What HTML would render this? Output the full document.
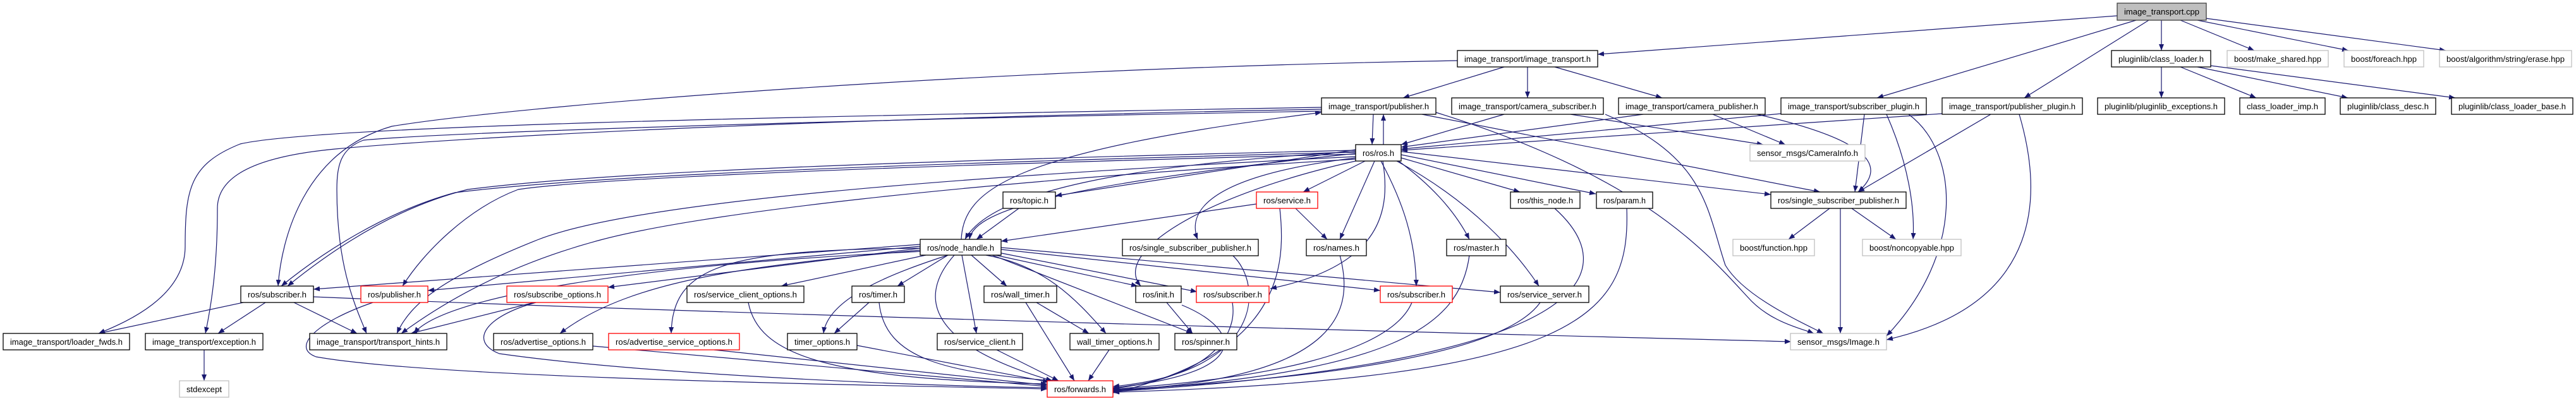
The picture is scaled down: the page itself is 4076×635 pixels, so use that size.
<!DOCTYPE html>
<html><head><meta charset="utf-8"><style>
html,body{margin:0;padding:0;background:#fff;}
svg{display:block}
text{font-family:"Liberation Sans",sans-serif;font-size:13px;fill:#000}
.n{fill:#fff;stroke:#000;stroke-width:1.3}
.r{fill:#fff;stroke:#ff0000;stroke-width:1.3}
.g{fill:#fff;stroke:#bfbfbf;stroke-width:1.3}
.e{fill:none;stroke:#191970;stroke-width:1.2;marker-end:url(#a)}
</style></head><body>
<svg width="4076" height="635" viewBox="0 0 4076 635" xmlns="http://www.w3.org/2000/svg">
<defs><marker id="a" markerUnits="userSpaceOnUse" markerWidth="11" markerHeight="8" refX="10" refY="4" orient="auto"><path d="M0,0 L10,4 L0,8 z" fill="#191970"/></marker></defs>
<g>
<!-- edges from cpp -->
<path class="e" d="M3350,25 L2528,86"/>
<path class="e" d="M3380,32 L2970,155"/>
<path class="e" d="M3400,32 L3203,155"/>
<path class="e" d="M3420,32 L3420,80"/>
<path class="e" d="M3450,32 L3567,80"/>
<path class="e" d="M3477,32 L3716,80"/>
<path class="e" d="M3490,29 L3870,80"/>
<!-- class_loader -->
<path class="e" d="M3420,106 L3420,155"/>
<path class="e" d="M3450,106 L3570,155"/>
<path class="e" d="M3477,106 L3715,155"/>
<path class="e" d="M3498,104 L3885,155"/>
<!-- image_transport.h -->
<path class="e" d="M2380,106 L2220,155"/>
<path class="e" d="M2417,106 L2417,155"/>
<path class="e" d="M2460,106 L2630,155"/>
<path class="e" d="M2306,96 C1500,110 800,170 620,200 C480,240 445,380 440,453"/>
<!-- publisher.h long left -->
<path class="e" d="M2091,170 C1200,185 500,200 380,228 C300,260 293,300 293,390 C293,470 200,510 156,528"/>
<path class="e" d="M2091,173 C1200,190 700,220 530,236 C380,250 344,290 344,330 C344,420 335,480 325,528"/>
<path class="e" d="M2091,176 C1300,190 700,210 575,222 C540,235 533,260 533,300 C533,420 560,480 580,528"/>
<!-- ros.h to left -->
<path class="e" d="M2145,238 C1200,260 900,280 740,300 C620,330 520,400 455,453"/>
<path class="e" d="M2145,241 C1200,265 880,285 720,305 C610,335 510,400 445,453"/>
<path class="e" d="M2145,244 C1200,268 900,288 820,300 C740,330 670,400 637,453"/>
<path class="e" d="M2145,248 C1500,280 1000,320 850,380 C700,440 650,480 628,528"/>
<path class="e" d="M2145,252 C1500,290 1100,340 950,380 C800,420 700,480 635,528"/>
<!-- node_handle left -->
<path class="e" d="M1456,387 L496,458"/>
<path class="e" d="M1456,390 L677,460"/>
<path class="e" d="M1456,393 L962,455"/>
<path class="e" d="M1456,396 C1200,420 1000,440 886,528"/>
<path class="e" d="M1462,393 C1150,395 1064,420 1062,528"/>
<path class="e" d="M1460,398 C1000,420 700,470 655,528"/>
<path class="e" d="M1465,404 L1236,453"/>
<path class="e" d="M1500,404 L1420,453"/>
<path class="e" d="M1500,404 C1420,430 1310,470 1303,528"/>
<path class="e" d="M1537,404 L1593,453"/>
<path class="e" d="M1522,404 L1545,528"/>
<path class="e" d="M1510,404 C1460,460 1450,540 1665,603"/>
<path class="e" d="M1560,404 C1650,420 1700,470 1750,528"/>
<path class="e" d="M1570,404 L1887,528"/>
<path class="e" d="M1575,404 L1800,453"/>
<path class="e" d="M1580,400 L1894,462"/>
<path class="e" d="M1584,395 L2184,460"/>
<path class="e" d="M1584,392 L2374,463"/>
<path class="e" d="M1521,379 C1525,300 1600,240 2091,178"/>
<!-- rsub -->
<path class="e" d="M496,470 C1200,500 2400,530 2834,541"/>
<path class="e" d="M385,479 L156,528"/>
<path class="e" d="M420,479 L345,528"/>
<path class="e" d="M465,479 L565,528"/>
<path class="e" d="M323,554 L323,603"/>
<!-- publisher red etc to forwards -->
<path class="e" d="M590,479 C500,510 460,550 500,565 C700,600 1400,610 1657,616"/>
<path class="e" d="M845,479 L650,528"/>
<path class="e" d="M848,479 C770,500 740,540 790,560 C1000,590 1400,610 1657,614"/>
<path class="e" d="M938,548 L1657,612"/>
<path class="e" d="M1130,554 L1657,610"/>
<path class="e" d="M1184,479 C1200,560 1300,600 1657,608"/>
<path class="e" d="M1375,479 L1320,528"/>
<path class="e" d="M1391,479 C1400,570 1500,590 1667,603"/>
<path class="e" d="M1356,547 L1660,605"/>
<path class="e" d="M1640,479 L1723,528"/>
<path class="e" d="M1623,479 L1700,603"/>
<path class="e" d="M1577,554 L1675,603"/>
<path class="e" d="M1755,554 L1722,603"/>
<path class="e" d="M1846,479 L1887,528"/>
<path class="e" d="M1870,483 C1960,520 1990,590 1761,614"/>
<path class="e" d="M1950,479 C1960,540 1900,600 1761,615"/>
<path class="e" d="M2234,479 C2200,560 2000,600 1761,616"/>
<path class="e" d="M2437,479 C2380,560 2100,600 1761,617"/>
<path class="e" d="M2120,404 C2140,480 2140,600 1761,618"/>
<path class="e" d="M2325,404 C2310,520 2200,590 1761,619"/>
<path class="e" d="M2460,330 C2560,420 2560,570 1761,620"/>
<path class="e" d="M2574,330 C2580,500 2500,600 1761,621"/>
<path class="e" d="M2025,330 C2035,420 2030,560 1761,622"/>
<path class="e" d="M1950,404 C2000,450 2000,590 1761,612"/>
<!-- topic/service -->
<path class="e" d="M1612,330 L1545,379"/>
<path class="e" d="M1988,323 L1584,382"/>
<path class="e" d="M2050,330 L2100,379"/>
<!-- ros.h out -->
<path class="e" d="M2145,237 L1670,310"/>
<path class="e" d="M2145,240 C1800,260 1570,300 1527,379"/>
<path class="e" d="M2145,243 C1700,290 1540,330 1534,379"/>
<path class="e" d="M2160,255 L2062,304"/>
<path class="e" d="M2175,255 L2120,379"/>
<path class="e" d="M2213,255 C2260,290 2300,330 2325,379"/>
<path class="e" d="M2185,255 C2220,320 2240,380 2241,453"/>
<path class="e" d="M2210,255 C2330,320 2400,400 2435,453"/>
<path class="e" d="M2217,250 L2405,304"/>
<path class="e" d="M2217,245 L2525,307"/>
<path class="e" d="M2217,240 L2802,308"/>
<path class="e" d="M2145,250 C1900,280 1880,340 1895,379"/>
<path class="e" d="M2145,255 C1900,310 1760,400 1805,453"/>
<path class="e" d="M2188,255 C2200,330 2190,420 2010,457"/>
<path class="e" d="M2189,229 L2189,181"/>
<path class="e" d="M2173,181 L2171,229"/>
<!-- row3 to ros etc -->
<path class="e" d="M2380,181 L2217,229"/>
<path class="e" d="M2600,181 L2217,233"/>
<path class="e" d="M2818,180 L2217,236"/>
<path class="e" d="M3073,180 L2217,238"/>
<path class="e" d="M2250,181 L2880,304"/>
<path class="e" d="M2272,178 C2600,280 2700,400 2765,470 C2800,510 2850,520 2870,528"/>
<path class="e" d="M2485,181 L2790,229"/>
<path class="e" d="M2540,181 C2700,250 2700,330 2730,420 C2760,470 2850,510 2885,528"/>
<path class="e" d="M2710,181 L2825,229"/>
<path class="e" d="M2780,181 C2950,220 2990,260 2940,304"/>
<path class="e" d="M2950,181 L2935,304"/>
<path class="e" d="M3020,181 C3100,240 3110,400 2985,532"/>
<path class="e" d="M3150,181 L2940,304"/>
<path class="e" d="M3195,181 C3230,300 3240,480 2985,538"/>
<path class="e" d="M2895,330 L2830,379"/>
<path class="e" d="M2930,330 L3000,379"/>
<path class="e" d="M2912,330 L2912,528"/>
<path class="e" d="M2985,181 C3020,260 3030,330 3027,379"/>
</g>
<g>
<rect x="3350" y="5" width="141" height="27" fill="#bfbfbf" stroke="#404040" stroke-width="1.3"/><text x="3361" y="23" textLength="119" lengthAdjust="spacingAndGlyphs">image_transport.cpp</text>
<rect class="n" x="2306" y="80" width="222" height="26"/><text x="2317" y="98" textLength="200" lengthAdjust="spacingAndGlyphs">image_transport/image_transport.h</text>
<rect class="n" x="3341" y="80" width="157" height="26"/><text x="3352" y="98" textLength="135" lengthAdjust="spacingAndGlyphs">pluginlib/class_loader.h</text>
<rect class="g" x="3524" y="80" width="160" height="26"/><text x="3535" y="98" textLength="138" lengthAdjust="spacingAndGlyphs">boost/make_shared.hpp</text>
<rect class="g" x="3709" y="80" width="126" height="26"/><text x="3720" y="98" textLength="104" lengthAdjust="spacingAndGlyphs">boost/foreach.hpp</text>
<rect class="g" x="3860" y="80" width="209" height="26"/><text x="3871" y="98" textLength="187" lengthAdjust="spacingAndGlyphs">boost/algorithm/string/erase.hpp</text>
<rect class="n" x="2091" y="155" width="181" height="26"/><text x="2102" y="173" textLength="159" lengthAdjust="spacingAndGlyphs">image_transport/publisher.h</text>
<rect class="n" x="2297" y="155" width="240" height="26"/><text x="2308" y="173" textLength="218" lengthAdjust="spacingAndGlyphs">image_transport/camera_subscriber.h</text>
<rect class="n" x="2561" y="155" width="232" height="26"/><text x="2572" y="173" textLength="210" lengthAdjust="spacingAndGlyphs">image_transport/camera_publisher.h</text>
<rect class="n" x="2818" y="155" width="230" height="26"/><text x="2829" y="173" textLength="208" lengthAdjust="spacingAndGlyphs">image_transport/subscriber_plugin.h</text>
<rect class="n" x="3073" y="155" width="222" height="26"/><text x="3084" y="173" textLength="200" lengthAdjust="spacingAndGlyphs">image_transport/publisher_plugin.h</text>
<rect class="n" x="3319" y="155" width="201" height="26"/><text x="3330" y="173" textLength="179" lengthAdjust="spacingAndGlyphs">pluginlib/pluginlib_exceptions.h</text>
<rect class="n" x="3544" y="155" width="135" height="26"/><text x="3555" y="173" textLength="113" lengthAdjust="spacingAndGlyphs">class_loader_imp.h</text>
<rect class="n" x="3703" y="155" width="151" height="26"/><text x="3714" y="173" textLength="129" lengthAdjust="spacingAndGlyphs">pluginlib/class_desc.h</text>
<rect class="n" x="3879" y="155" width="192" height="26"/><text x="3890" y="173" textLength="170" lengthAdjust="spacingAndGlyphs">pluginlib/class_loader_base.h</text>
<rect class="n" x="2145" y="229" width="72" height="26"/><text x="2156" y="247" textLength="50" lengthAdjust="spacingAndGlyphs">ros/ros.h</text>
<rect class="g" x="2769" y="229" width="182" height="26"/><text x="2780" y="247" textLength="160" lengthAdjust="spacingAndGlyphs">sensor_msgs/CameraInfo.h</text>
<rect class="n" x="1587" y="304" width="83" height="26"/><text x="1598" y="322" textLength="61" lengthAdjust="spacingAndGlyphs">ros/topic.h</text>
<rect class="r" x="1988" y="304" width="97" height="26"/><text x="1999" y="322" textLength="75" lengthAdjust="spacingAndGlyphs">ros/service.h</text>
<rect class="n" x="2390" y="304" width="110" height="26"/><text x="2401" y="322" textLength="88" lengthAdjust="spacingAndGlyphs">ros/this_node.h</text>
<rect class="n" x="2526" y="304" width="89" height="26"/><text x="2537" y="322" textLength="67" lengthAdjust="spacingAndGlyphs">ros/param.h</text>
<rect class="n" x="2802" y="304" width="214" height="26"/><text x="2813" y="322" textLength="192" lengthAdjust="spacingAndGlyphs">ros/single_subscriber_publisher.h</text>
<rect class="n" x="1456" y="379" width="128" height="25"/><text x="1467" y="397" textLength="106" lengthAdjust="spacingAndGlyphs">ros/node_handle.h</text>
<rect class="n" x="1776" y="379" width="215" height="26"/><text x="1787" y="397" textLength="193" lengthAdjust="spacingAndGlyphs">ros/single_subscriber_publisher.h</text>
<rect class="n" x="2067" y="379" width="95" height="26"/><text x="2078" y="397" textLength="73" lengthAdjust="spacingAndGlyphs">ros/names.h</text>
<rect class="n" x="2289" y="379" width="94" height="26"/><text x="2300" y="397" textLength="72" lengthAdjust="spacingAndGlyphs">ros/master.h</text>
<rect class="g" x="2742" y="379" width="129" height="26"/><text x="2753" y="397" textLength="107" lengthAdjust="spacingAndGlyphs">boost/function.hpp</text>
<rect class="g" x="2947" y="379" width="156" height="26"/><text x="2958" y="397" textLength="134" lengthAdjust="spacingAndGlyphs">boost/noncopyable.hpp</text>
<rect class="n" x="381" y="453" width="115" height="26"/><text x="392" y="471" textLength="93" lengthAdjust="spacingAndGlyphs">ros/subscriber.h</text>
<rect class="r" x="571" y="453" width="106" height="26"/><text x="582" y="471" textLength="84" lengthAdjust="spacingAndGlyphs">ros/publisher.h</text>
<rect class="r" x="802" y="453" width="160" height="26"/><text x="813" y="471" textLength="138" lengthAdjust="spacingAndGlyphs">ros/subscribe_options.h</text>
<rect class="n" x="1087" y="453" width="185" height="26"/><text x="1098" y="471" textLength="163" lengthAdjust="spacingAndGlyphs">ros/service_client_options.h</text>
<rect class="n" x="1348" y="453" width="83" height="26"/><text x="1359" y="471" textLength="61" lengthAdjust="spacingAndGlyphs">ros/timer.h</text>
<rect class="n" x="1557" y="453" width="115" height="26"/><text x="1568" y="471" textLength="93" lengthAdjust="spacingAndGlyphs">ros/wall_timer.h</text>
<rect class="n" x="1797" y="453" width="72" height="26"/><text x="1808" y="471" textLength="50" lengthAdjust="spacingAndGlyphs">ros/init.h</text>
<rect class="r" x="1893" y="453" width="115" height="26"/><text x="1904" y="471" textLength="93" lengthAdjust="spacingAndGlyphs">ros/subscriber.h</text>
<rect class="r" x="2184" y="453" width="114" height="26"/><text x="2195" y="471" textLength="92" lengthAdjust="spacingAndGlyphs">ros/subscriber.h</text>
<rect class="n" x="2374" y="453" width="140" height="26"/><text x="2385" y="471" textLength="118" lengthAdjust="spacingAndGlyphs">ros/service_server.h</text>
<rect class="n" x="5" y="528" width="200" height="26"/><text x="16" y="546" textLength="178" lengthAdjust="spacingAndGlyphs">image_transport/loader_fwds.h</text>
<rect class="n" x="230" y="528" width="186" height="26"/><text x="241" y="546" textLength="164" lengthAdjust="spacingAndGlyphs">image_transport/exception.h</text>
<rect class="n" x="490" y="528" width="217" height="26"/><text x="501" y="546" textLength="195" lengthAdjust="spacingAndGlyphs">image_transport/transport_hints.h</text>
<rect class="n" x="781" y="528" width="157" height="26"/><text x="792" y="546" textLength="135" lengthAdjust="spacingAndGlyphs">ros/advertise_options.h</text>
<rect class="r" x="963" y="528" width="207" height="26"/><text x="974" y="546" textLength="185" lengthAdjust="spacingAndGlyphs">ros/advertise_service_options.h</text>
<rect class="n" x="1246" y="528" width="110" height="26"/><text x="1257" y="546" textLength="88" lengthAdjust="spacingAndGlyphs">timer_options.h</text>
<rect class="n" x="1483" y="528" width="135" height="26"/><text x="1494" y="546" textLength="113" lengthAdjust="spacingAndGlyphs">ros/service_client.h</text>
<rect class="n" x="1693" y="528" width="141" height="26"/><text x="1704" y="546" textLength="119" lengthAdjust="spacingAndGlyphs">wall_timer_options.h</text>
<rect class="n" x="1859" y="528" width="98" height="26"/><text x="1870" y="546" textLength="76" lengthAdjust="spacingAndGlyphs">ros/spinner.h</text>
<rect class="g" x="2833" y="528" width="152" height="26"/><text x="2844" y="546" textLength="130" lengthAdjust="spacingAndGlyphs">sensor_msgs/Image.h</text>
<rect class="r" x="1657" y="603" width="104" height="26"/><text x="1668" y="621" textLength="82" lengthAdjust="spacingAndGlyphs">ros/forwards.h</text>
<rect class="g" x="284" y="603" width="78" height="26"/><text x="295" y="621" textLength="56" lengthAdjust="spacingAndGlyphs">stdexcept</text>
</g>
</svg>
</body></html>
